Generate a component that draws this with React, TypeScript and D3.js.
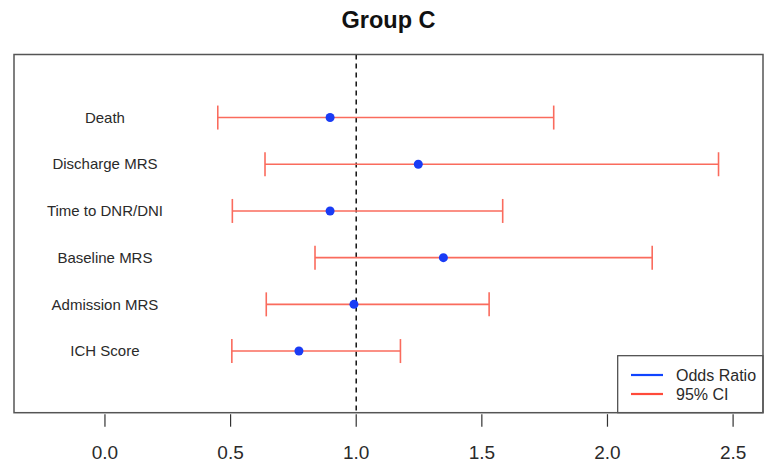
import * as d3 from "d3";

const labels = ["Death", "Discharge MRS", "Time to DNR/DNI", "Baseline MRS", "Admission MRS", "ICH Score"];
const oddsRatio = [0.896, 1.247, 0.896, 1.347, 0.991, 0.772];
const lowerCI = [0.449, 0.637, 0.507, 0.836, 0.642, 0.505];
const upperCI = [1.786, 2.442, 1.583, 2.178, 1.529, 1.176];
const xTicks = [0, 0.5, 1, 1.5, 2, 2.5];

const W = 773;
const H = 465;
const box = { left: 14, right: 763, top: 54.5, bottom: 412.7 };
const font = "'Liberation Sans', Arial, Helvetica, sans-serif";
const red = "#fa6b5d";
const blue = "#1a3cf5";

export default function App() {
  const x = d3.scaleLinear().domain([-0.362, 2.619]).range([box.left, box.right]);
  // row 0 at the bottom (ICH Score), row 5 at the top (Death)
  const y = d3.scaleLinear().domain([-1.32, 6.35]).range([box.bottom, box.top]);
  const n = labels.length;
  const rowY = (i: number) => y(n - 1 - i);
  const cap = 12;

  return (
    <svg width={W} height={H} style={{ position: "absolute", left: 0, top: 0, background: "#fff" }} fontFamily={font}>
      <text x={(box.left + box.right) / 2} y={28} textAnchor="middle" fontSize={23.5} fontWeight="bold" fill="#111">
        Group C
      </text>

      {/* reference line at OR = 1 */}
      <line x1={x(1)} x2={x(1)} y1={box.top} y2={box.bottom} stroke="#111" strokeWidth={1.5} strokeDasharray="5,4" />

      {labels.map((lab, i) => (
        <text key={lab} x={x(0)} y={rowY(i)} dy="0.35em" textAnchor="middle" fontSize={15} fill="#2a2a2a">
          {lab}
        </text>
      ))}

      {labels.map((lab, i) => {
        const cy = rowY(i);
        return (
          <g key={"ci" + lab} stroke={red} strokeWidth={1.6}>
            <line x1={x(lowerCI[i])} x2={x(upperCI[i])} y1={cy} y2={cy} />
            <line x1={x(lowerCI[i])} x2={x(lowerCI[i])} y1={cy - cap} y2={cy + cap} />
            <line x1={x(upperCI[i])} x2={x(upperCI[i])} y1={cy - cap} y2={cy + cap} />
          </g>
        );
      })}

      {oddsRatio.map((v, i) => (
        <circle key={"or" + i} cx={x(v)} cy={rowY(i)} r={4.5} fill={blue} />
      ))}

      {/* x axis ticks */}
      {xTicks.map((t) => (
        <g key={t}>
          <line x1={x(t)} x2={x(t)} y1={box.bottom + 1.5} y2={box.bottom + 14} stroke="#333" strokeWidth={1.2} />
          <text x={x(t)} y={452} dy="0.35em" textAnchor="middle" fontSize={19} fill="#2a2a2a">
            {d3.format(".1f")(t)}
          </text>
        </g>
      ))}

      {/* legend */}
      <g>
        <rect x={617.7} y={355.7} width={box.right - 617.7} height={box.bottom - 355.7} fill="#fff" stroke="#444" strokeWidth={1.2} />
        <line x1={631} x2={663} y1={375} y2={375} stroke="#1044ff" strokeWidth={2.2} />
        <line x1={631} x2={663} y1={394} y2={394} stroke="#ff4a3a" strokeWidth={2.2} />
        <text x={676} y={375} dy="0.35em" fontSize={16} fill="#2a2a2a">Odds Ratio</text>
        <text x={676} y={394} dy="0.35em" fontSize={16} fill="#2a2a2a">95% CI</text>
      </g>

      <rect x={box.left} y={box.top} width={box.right - box.left} height={box.bottom - box.top} fill="none" stroke="#555" strokeWidth={1.5} />
    </svg>
  );
}
